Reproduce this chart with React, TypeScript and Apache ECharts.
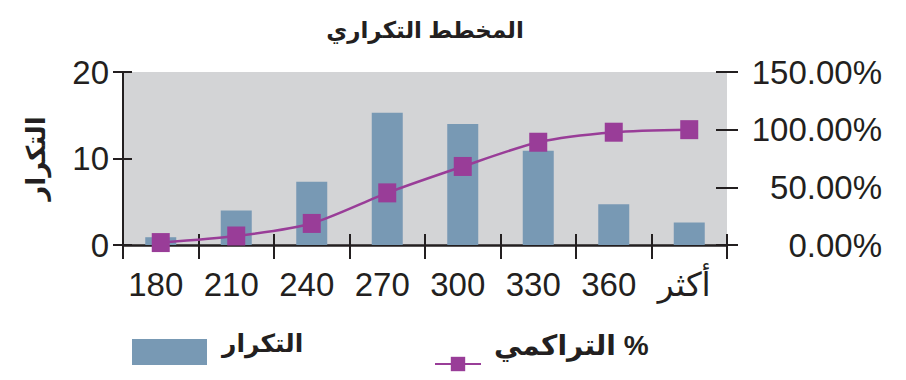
import React, { useEffect, useRef } from "react";
import * as echarts from "echarts";

const categories = ["180", "210", "240", "270", "300", "330", "360", "أكثر"];
const frequency = [0.9, 4, 7.3, 15.3, 14, 10.9, 4.7, 2.6];
const cumulativePct = [2.1, 7.8, 18.7, 45.2, 68.1, 89.1, 97.8, 100];
const titleText = "المخطط التكراري";
const barName = "التكرار";
const lineName = "التراكمي %";

const FONT = "'Liberation Sans', Arial, 'DejaVu Sans', sans-serif";
const INK = "#231f20";
const BAR = "#7899b4";
const PURPLE = "#993d98";

export default function App() {
  const ref = useRef<HTMLDivElement>(null);
  useEffect(() => {
    const chart = echarts.init(ref.current!, null, { renderer: "svg" });
    const tickLine = { color: INK, width: 2 };
    chart.setOption({
      animation: false,
      textStyle: { fontFamily: FONT, color: INK },
      title: {
        text: titleText,
        left: 420,
        top: 13,
        textAlign: "center",
        textStyle: { fontFamily: FONT, fontSize: 23, fontWeight: "bold", color: INK },
      },
      legend: [
        {
          data: [{ name: barName, icon: "rect" }],
          left: 132,
          top: 328,
          padding: 0,
          itemWidth: 75,
          itemHeight: 26,
          formatter: (n: string) => n + "\n{gap| }",
          textStyle: {
            fontFamily: FONT,
            fontSize: 25,
            lineHeight: 30,
            fontWeight: "bold",
            color: INK,
            padding: [0, 0, 0, 10],
            rich: { gap: { fontSize: 2, lineHeight: 18 } },
          },
        },
        {
          data: [lineName],
          left: 434,
          top: 329,
          padding: 0,
          itemWidth: 46,
          itemHeight: 18,
          formatter: (n: string) => n + "\n{gap| }",
          textStyle: {
            fontFamily: FONT,
            fontSize: 28,
            lineHeight: 32,
            fontWeight: "bold",
            color: INK,
            padding: [0, 0, 0, 8],
            rich: { gap: { fontSize: 2, lineHeight: 38 } },
          },
        },
      ],
      grid: {
        left: 123,
        right: 179,
        top: 72,
        bottom: 135,
        show: true,
        backgroundColor: "#d3d4d6",
        borderWidth: 0,
      },
      xAxis: [
        {
          type: "category",
          data: categories,
          position: "bottom",
          axisLine: { show: true, lineStyle: { color: INK, width: 2.5 } },
          axisTick: { show: true, length: 14, lineStyle: tickLine },
          axisLabel: { fontFamily: FONT, fontSize: 33, color: INK, margin: 23, padding: [0, 10, 0, 0] },
          splitLine: { show: false },
        },
        {
          type: "category",
          data: categories,
          position: "bottom",
          axisLine: { show: false },
          axisTick: { show: true, inside: true, length: 11, lineStyle: tickLine },
          axisLabel: { show: false },
          splitLine: { show: false },
        },
      ],
      yAxis: [
        {
          type: "value",
          min: 0,
          max: 20,
          interval: 10,
          position: "left",
          name: barName,
          nameLocation: "middle",
          nameGap: 74,
          nameTextStyle: { fontFamily: FONT, fontSize: 26, fontWeight: "bold", color: INK },
          axisLine: { show: true, lineStyle: { color: INK, width: 2 } },
          axisTick: { show: true, length: 10, lineStyle: tickLine },
          axisLabel: { fontFamily: FONT, fontSize: 33, color: INK, margin: 14 },
          splitLine: { show: false },
        },
        {
          type: "value",
          min: 0,
          max: 150,
          interval: 50,
          position: "right",
          axisLine: { show: false },
          axisTick: { show: true, length: 11, lineStyle: tickLine },
          axisLabel: {
            fontFamily: FONT,
            fontSize: 33,
            color: INK,
            align: "right",
            margin: 155,
            formatter: (v: number) => v.toFixed(2) + "%",
          },
          splitLine: { show: false },
        },
        {
          type: "value",
          min: 0,
          max: 20,
          interval: 10,
          position: "left",
          axisLine: { show: false },
          axisTick: { show: true, inside: true, length: 9, lineStyle: tickLine },
          axisLabel: { show: false },
          splitLine: { show: false },
        },
        {
          type: "value",
          min: 0,
          max: 150,
          interval: 50,
          position: "right",
          axisLine: { show: false },
          axisTick: { show: true, inside: true, length: 11, lineStyle: tickLine },
          axisLabel: { show: false },
          splitLine: { show: false },
        },
      ],
      series: [
        {
          name: barName,
          type: "bar",
          data: frequency,
          xAxisIndex: 0,
          yAxisIndex: 0,
          barWidth: 31,
          itemStyle: { color: BAR },
          z: 1,
        },
        {
          name: lineName,
          type: "line",
          data: cumulativePct,
          xAxisIndex: 0,
          yAxisIndex: 1,
          smooth: 0.25,
          symbol: "rect",
          symbolSize: [18, 19],
          lineStyle: { color: PURPLE, width: 2.5 },
          itemStyle: { color: PURPLE },
          z: 5,
        },
      ],
    });
    return () => chart.dispose();
  }, []);
  return (
    <div
      ref={ref}
      style={{ position: "fixed", left: 0, top: 0, width: 906, height: 380, background: "#fff" }}
    />
  );
}
